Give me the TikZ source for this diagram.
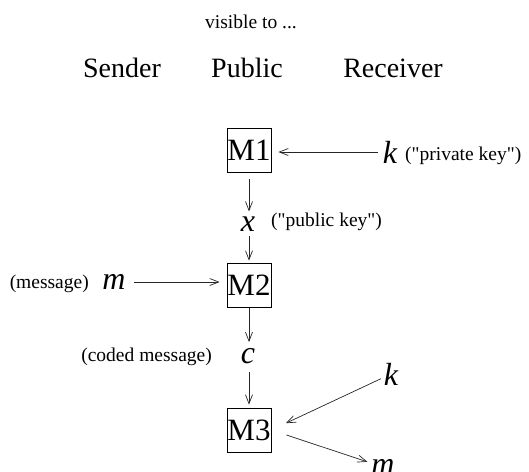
\documentclass[tikz,border=0pt]{standalone}
\usepackage{fontspec}
\setmainfont{Liberation Serif}[Ligatures=TeXOff]
\usetikzlibrary{arrows.meta}
\begin{document}
\begin{tikzpicture}[x=1pt,y=-1pt,
  arr/.style={draw=black!85, line width=0.7pt, -{Straight Barb[length=9pt,width=7pt]}},
  box/.style={draw, line width=0.7pt, inner sep=0pt, minimum width=44pt, minimum height=44pt, font=\fontsize{31}{31}\selectfont},
  big/.style={font=\fontsize{28}{28}\selectfont, inner sep=0pt},
  var/.style={font=\fontsize{32}{32}\selectfont\itshape, inner sep=0pt},
  lbl/.style={font=\fontsize{19.5}{19.5}\selectfont, inner sep=0pt}]
\useasboundingbox (0,0) rectangle (529,471);
\node[lbl, anchor=base] (vis) at (251,28) {visible to ...};
\node[big, anchor=base] (snd) at (122,77) {Sender};
\node[big, anchor=base] (pub) at (247,77) {Public};
\node[big, anchor=base] (rcv) at (393,77) {Receiver};
\node[box] (M1) at (249,150) {M1};
\node[box] (M2) at (249,285) {M2};
\node[box] (M3) at (249,430) {M3};
\node[var] (k1) at (390,152) {k};
\node[lbl, anchor=west] (pk) at (405,156) {("private key")};
\node[var] (x) at (248,224) {x};
\node[lbl, anchor=west] (pubk) at (271,222) {("public key")};
\node[var] (m1) at (114,282) {m};
\node[lbl, anchor=east] (msg) at (89,284) {(message)};
\node[var] (c) at (248,356) {c};
\node[lbl, anchor=east] (cm) at (212,357) {(coded message)};
\node[var] (k2) at (391,374) {k};
\node[var] (m2) at (383,467) {m};
\draw[arr, shorten <=5pt, shorten >=7pt] (k1.west) -- (k1.west -| M1.east);
\draw[arr, shorten <=7pt, shorten >=5pt] (M1.south) -- (x.north -| M1.south);
\draw[arr, shorten <=4pt, shorten >=2pt] (x.south -| M2.north) -- (M2.north);
\draw[arr, shorten <=1pt, shorten >=6pt] (M2.south) -- (c.north -| M2.south);
\draw[arr, shorten <=8pt, shorten >=3pt] (c.south -| M3.north) -- (M3.north);
\draw[arr, shorten <=8pt, shorten >=7pt] (m1.east) -- (m1.east -| M2.west);
\draw[arr, shorten <=3pt, shorten >=16pt] (k2) -- (M3.east);
\draw[arr, shorten <=16pt, shorten >=4pt] (M3.east) -- (m2);
\end{tikzpicture}
\end{document}
